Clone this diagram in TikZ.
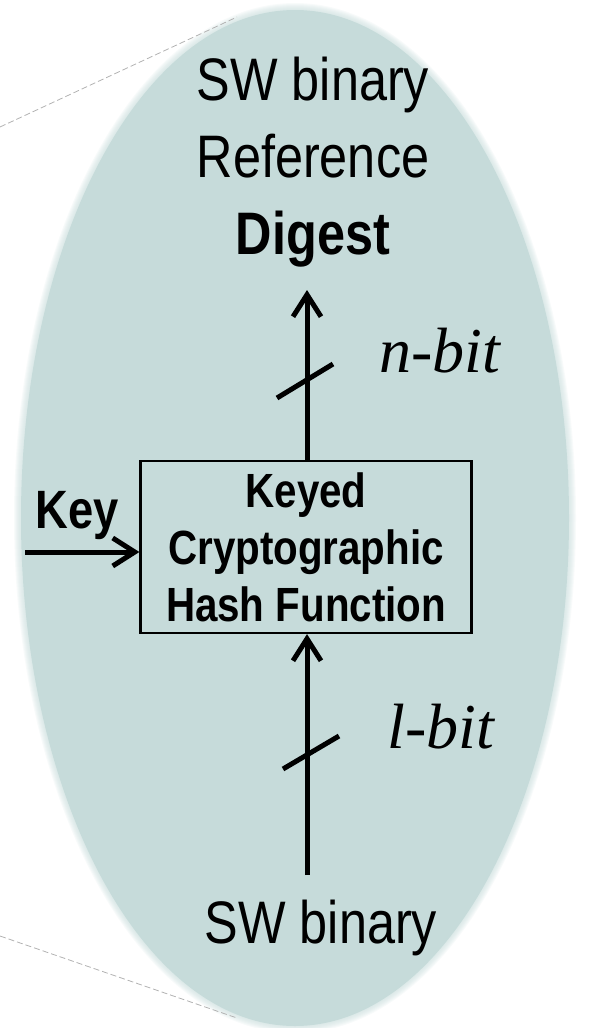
\documentclass[tikz,border=0pt]{standalone}
\usepackage{fontspec}
\setmainfont{Liberation Sans}[FakeStretch=0.84]
\newfontfamily\bitfont{Liberation Serif}
\usetikzlibrary{arrows.meta}
\definecolor{ovalfill}{HTML}{C6DBDA}
\tikzstyle{bigtext} = [inner sep=0pt, align=center, font=\fontsize{30}{38.5}\selectfont]
\tikzstyle{hashbox} = [rectangle, minimum width=165.5pt, minimum height=86pt, inner sep=0pt, align=center, draw=black, line width=1.1pt, font=\bfseries\fontsize{24}{28.5}\selectfont]
\tikzstyle{keytext} = [inner sep=0pt, font=\bfseries\fontsize{27}{30}\selectfont]
\tikzstyle{bitlabel} = [inner sep=0pt, font=\bitfont\itshape\fontsize{32}{36}\selectfont]
\tikzstyle{arrow} = [line width=2.5pt, -{Straight Barb[length=11pt, width=14pt, line width=2.5pt]}]
\tikzstyle{busmark} = [line width=2.5pt]
\tikzstyle{zoomline} = [gray!60, line width=0.4pt, dash pattern=on 3pt off 1.5pt]

\begin{document}
\begin{tikzpicture}[x=0.5pt, y=-0.5pt]
\useasboundingbox (0,0) rectangle (590,1028);

% soft oval behind everything
\foreach \d in {1,...,8}
  \fill[ovalfill, opacity=0.12] (295,518) ellipse [x radius=273+\d, y radius=507+\d];
\fill[ovalfill] (295,518) ellipse [x radius=274, y radius=508];

% callout lines
\coordinate (zt1) at (0,127);
\coordinate (zt2) at (237,17);
\coordinate (zb1) at (0,936);
\coordinate (zb2) at (237,1018);
\draw[zoomline] (zt1) -- (zt2);
\draw[zoomline] (zb1) -- (zb2);

\node (hash) [hashbox] at (306,547) {Keyed\\Cryptographic\\Hash Function};
\node (digest) [bigtext, anchor=north] at (313,57) {SW binary\\Reference\\\textbf{Digest}};
\node (swbin) [bigtext, anchor=base] at (321,943) {SW binary};
\node (key) [keytext, anchor=base] at (77,528) {Key};
\node (nbit) [bitlabel, anchor=base] at (440,372) {n-bit};
\node (lbit) [bitlabel, anchor=base] at (441,748) {l-bit};

\coordinate (digtip) at (307,290);
\coordinate (swtop) at (307,875);
\coordinate (keyin) at (25,552);

\draw[arrow] (hash.north -| digtip) -- (digtip);
\draw[arrow] (swtop) -- (hash.south -| swtop);
\draw[arrow] (keyin) -- (hash.west |- keyin);

% bus width slashes
\draw[busmark] (277,398) -- (333,364);
\draw[busmark] (283,769) -- (339,736);

\end{tikzpicture}
\end{document}
